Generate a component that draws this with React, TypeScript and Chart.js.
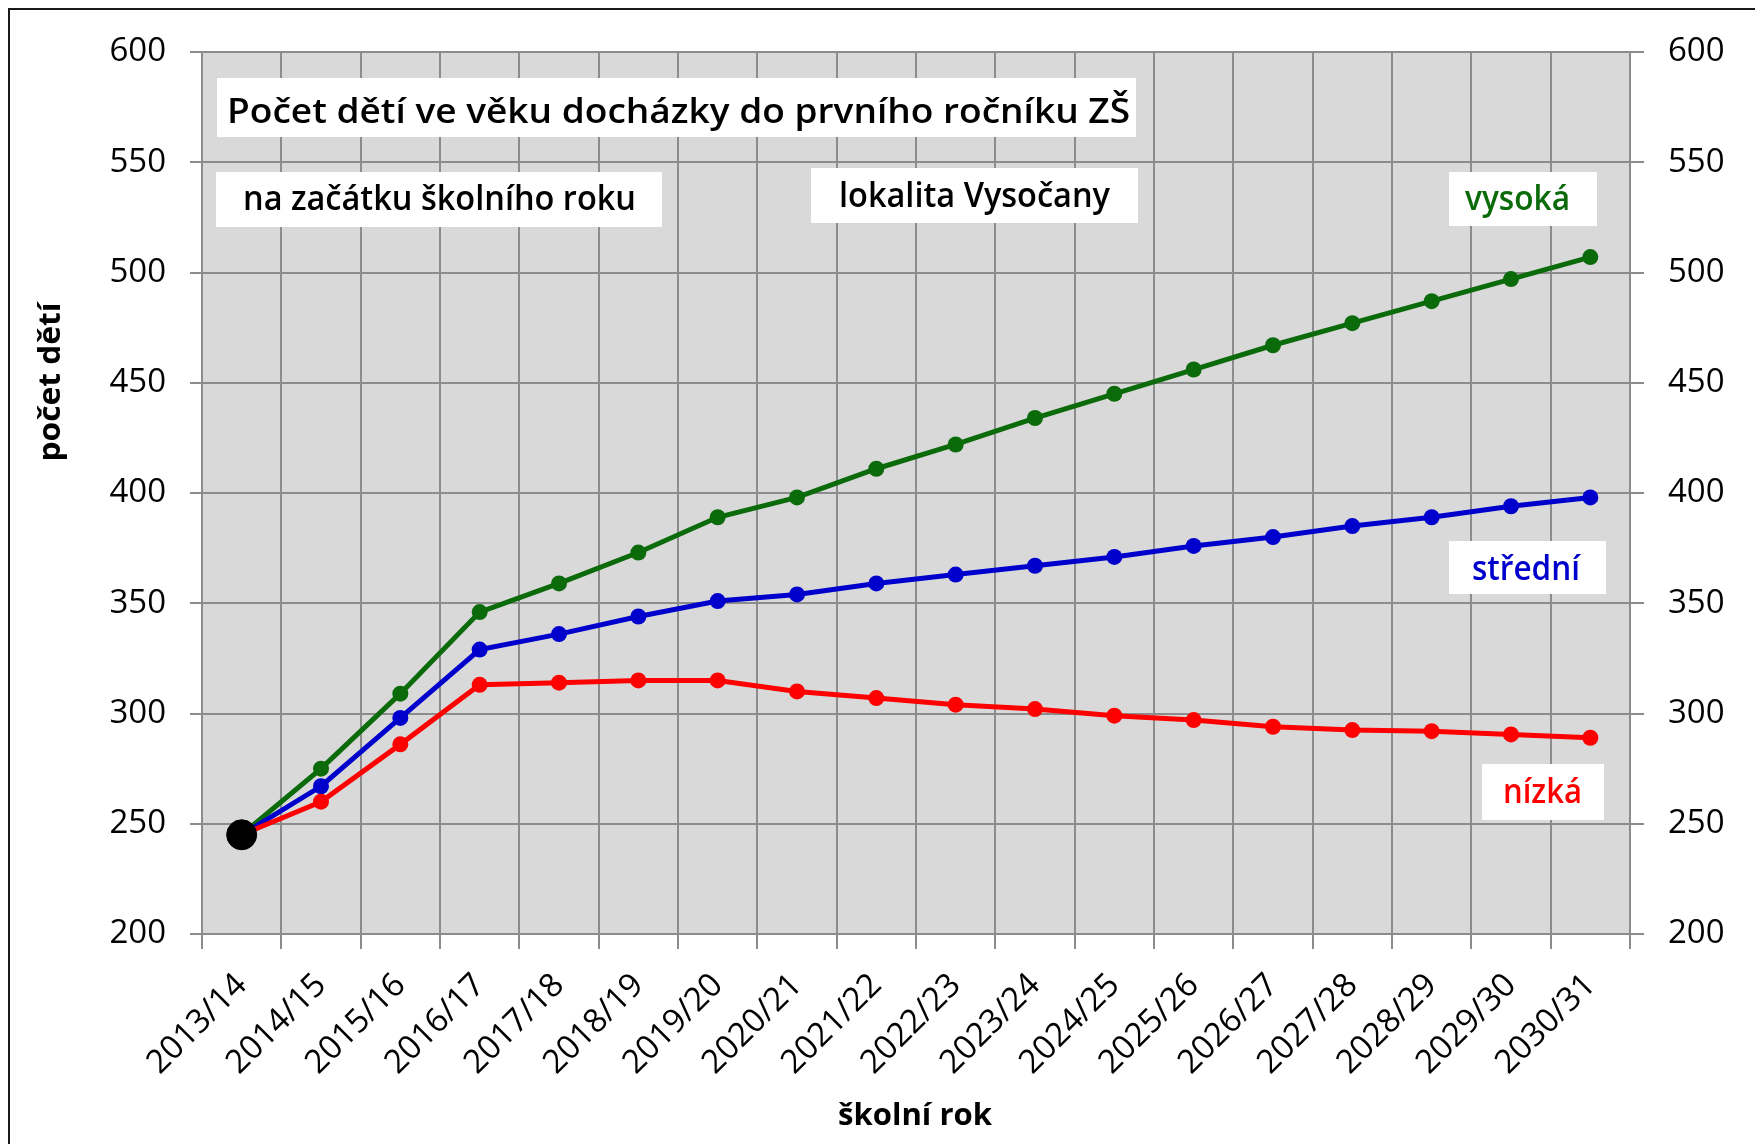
import React, { useEffect, useRef } from "react";
import { Chart, registerables } from "chart.js";

Chart.register(...registerables);

const categories = [
  "2013/14", "2014/15", "2015/16", "2016/17", "2017/18", "2018/19",
  "2019/20", "2020/21", "2021/22", "2022/23", "2023/24", "2024/25",
  "2025/26", "2026/27", "2027/28", "2028/29", "2029/30", "2030/31",
];
const vysoka = [245, 275, 309, 346, 359, 373, 389, 398, 411, 422, 434, 445, 456, 467, 477, 487, 497, 507];
const stredni = [245, 267, 298, 329, 336, 344, 351, 354, 359, 363, 367, 371, 376, 380, 385, 389, 394, 398];
const nizka = [245, 260, 286, 313, 314, 315, 315, 310, 307, 304, 302, 299, 297, 294, 292.5, 292, 290.5, 289];
const startValue = [245];

const yMin = 200;
const yMax = 600;
const yStep = 50;

const titleText = "Počet dětí ve věku docházky do prvního ročníku ZŠ";
const subText = "na začátku školního roku";
const locText = "lokalita Vysočany";
const labelHigh = "vysoká";
const labelMid = "střední";
const labelLow = "nízká";
const yTitle = "počet dětí";
const xTitle = "školní rok";

const GREEN = "#0b6b0b";
const BLUE = "#0000cc";
const RED = "#ff0000";
const GRID = "#8c8c8c";
const FONT = "'Open Sans', 'Liberation Sans', sans-serif";

function fitText(
  ctx: CanvasRenderingContext2D,
  text: string,
  x: number,
  baseline: number,
  width: number,
  font: string,
  color: string
) {
  ctx.save();
  ctx.font = font;
  const w = ctx.measureText(text).width;
  ctx.translate(x, baseline);
  ctx.scale(width / w, 1);
  ctx.fillStyle = color;
  ctx.textAlign = "left";
  ctx.textBaseline = "alphabetic";
  ctx.fillText(text, 0, 0);
  ctx.restore();
}

function box(ctx: CanvasRenderingContext2D, x1: number, y1: number, x2: number, y2: number) {
  ctx.save();
  ctx.fillStyle = "#ffffff";
  ctx.fillRect(x1, y1, x2 - x1, y2 - y1);
  ctx.restore();
}

const decorPlugin = {
  id: "decor",
  beforeDraw(chart: any) {
    const ctx = chart.ctx as CanvasRenderingContext2D;
    const a = chart.chartArea;
    ctx.save();
    ctx.fillStyle = "#ffffff";
    ctx.fillRect(0, 0, chart.width, chart.height);
    ctx.fillStyle = "#d9d9d9";
    ctx.fillRect(a.left, a.top, a.right - a.left, a.bottom - a.top);
    ctx.restore();
  },
  afterDraw(chart: any) {
    const ctx = chart.ctx as CanvasRenderingContext2D;
    const annFont = `600 34px ${FONT}`;
    box(ctx, 217, 78, 1136, 137);
    fitText(ctx, titleText, 227, 123, 903, annFont, "#000000");
    box(ctx, 216, 172, 662, 227);
    fitText(ctx, subText, 243, 210, 393, annFont, "#000000");
    box(ctx, 811, 168, 1138, 223);
    fitText(ctx, locText, 839, 207, 271, annFont, "#000000");
    box(ctx, 1449, 172, 1597, 226);
    fitText(ctx, labelHigh, 1465, 210, 105, annFont, GREEN);
    box(ctx, 1449, 541, 1606, 594);
    fitText(ctx, labelMid, 1472, 580, 108, annFont, BLUE);
    box(ctx, 1482, 764, 1604, 820);
    fitText(ctx, labelLow, 1503, 803, 79, annFont, RED);

    // axis titles
    const tFont = `bold 31px ${FONT}`;
    ctx.save();
    ctx.font = tFont;
    let w = ctx.measureText(yTitle).width;
    ctx.translate(60, 382);
    ctx.rotate(-Math.PI / 2);
    ctx.scale(159 / w, 1);
    ctx.fillStyle = "#000";
    ctx.textAlign = "center";
    ctx.textBaseline = "alphabetic";
    ctx.fillText(yTitle, 0, 0);
    ctx.restore();

    ctx.save();
    ctx.font = tFont;
    w = ctx.measureText(xTitle).width;
    ctx.translate(915, 1125);
    ctx.scale(154 / w, 1);
    ctx.fillStyle = "#000";
    ctx.textAlign = "center";
    ctx.textBaseline = "alphabetic";
    ctx.fillText(xTitle, 0, 0);
    ctx.restore();

    // outer frame (top and left visible)
    ctx.save();
    ctx.fillStyle = "#1a1a1a";
    ctx.fillRect(8, 8, chart.width, 2);
    ctx.fillRect(8, 8, 2, chart.height);
    ctx.restore();
  },
};

export default function App() {
  const ref = useRef<HTMLCanvasElement | null>(null);

  useEffect(() => {
    if (!ref.current) return;
    const pad = (arr: number[]) => categories.map((_, i) => (i < arr.length ? arr[i] : null));
    const lineDs = (label: string, data: number[], color: string) => ({
      label,
      data,
      borderColor: color,
      backgroundColor: color,
      borderWidth: 5,
      pointRadius: 8,
      pointHoverRadius: 8,
      pointBackgroundColor: color,
      pointBorderColor: color,
      pointBorderWidth: 0,
      tension: 0,
    });
    const chart = new Chart(ref.current, {
      type: "line",
      data: {
        labels: categories,
        datasets: [
          {
            label: "start",
            data: pad(startValue),
            showLine: false,
            pointRadius: 15,
            pointHoverRadius: 15,
            pointBackgroundColor: "#000000",
            pointBorderColor: "#000000",
            borderColor: "#000000",
          },
          lineDs(labelLow, nizka, RED),
          lineDs(labelMid, stredni, BLUE),
          lineDs(labelHigh, vysoka, GREEN),
        ],
      },
      options: {
        animation: false,
        responsive: false,
        devicePixelRatio: 1,
        events: [],
        layout: { padding: { top: 52, left: 0, right: 0, bottom: 0 } },
        plugins: {
          legend: { display: false },
          tooltip: { enabled: false },
          title: { display: false },
        },
        scales: {
          x: {
            type: "category",
            offset: true,
            grid: {
              offset: true,
              color: GRID,
              lineWidth: 2,
              tickLength: 15,
              drawOnChartArea: true,
            },
            border: { color: GRID, width: 2 },
            ticks: {
              autoSkip: false,
              maxRotation: 45,
              minRotation: 45,
              padding: 17,
              color: "#000",
              font: { family: FONT, size: 33 },
            },
            afterFit: (s: any) => {
              s.height = 210;
            },
          },
          y: {
            position: "left",
            min: yMin,
            max: yMax,
            grid: { color: GRID, lineWidth: 2, tickLength: 12 },
            border: { color: GRID, width: 2 },
            ticks: {
              stepSize: yStep,
              padding: 24,
              color: "#000",
              font: { family: FONT, size: 33 },
            },
            afterFit: (s: any) => {
              s.width = 202;
            },
          },
          y2: {
            position: "right",
            min: yMin,
            max: yMax,
            grid: { color: GRID, lineWidth: 2, tickLength: 14, drawOnChartArea: false },
            border: { display: false },
            ticks: {
              stepSize: yStep,
              padding: 24,
              color: "#000",
              font: { family: FONT, size: 33 },
            },
            afterFit: (s: any) => {
              s.width = 125;
            },
          },
        },
      } as any,
      plugins: [decorPlugin],
    });
    return () => chart.destroy();
  }, []);

  return (
    <div style={{ position: "fixed", left: 0, top: 0, width: 1755, height: 1144, background: "#fff" }}>
      <canvas ref={ref} width={1755} height={1144} style={{ width: 1755, height: 1144, display: "block" }} />
    </div>
  );
}
